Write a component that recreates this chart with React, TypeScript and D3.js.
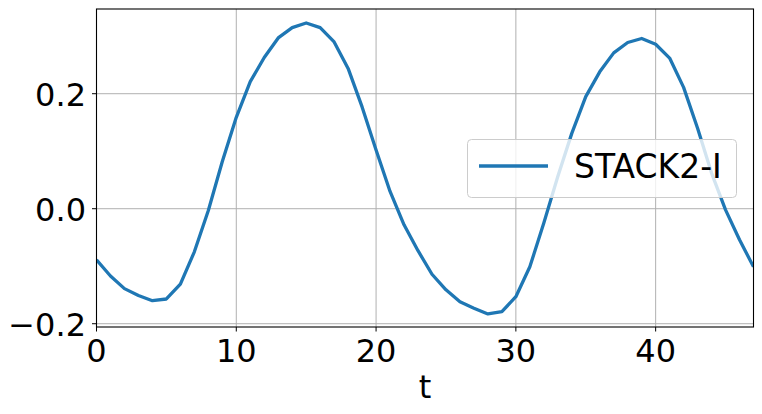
import React from "react";
import * as d3 from "d3";

const tValues = d3.range(0, 48);
const stack2I = [
  -0.089, -0.117, -0.139, -0.151, -0.16, -0.157, -0.131, -0.075, -0.003, 0.082,
  0.159, 0.221, 0.263, 0.297, 0.315, 0.323, 0.315, 0.29, 0.244, 0.177,
  0.102, 0.03, -0.028, -0.073, -0.114, -0.141, -0.162, -0.173, -0.183, -0.179,
  -0.153, -0.101, -0.025, 0.056, 0.131, 0.195, 0.238, 0.271, 0.289, 0.296,
  0.286, 0.262, 0.211, 0.14, 0.062, -0.002, -0.054, -0.101,
];
const xTicks = [0, 10, 20, 30, 40];
const yTicks = [-0.2, 0.0, 0.2];
const seriesName = "STACK2-I";

const W = 762;
const H = 414;
const left = 96.5;
const right = 753.5;
const top = 9;
const bottom = 327;
const font = "DejaVu Sans, sans-serif";

const App = () => {
  const x = d3.scaleLinear().domain([0, 47]).range([left, right]);
  const y = d3.scaleLinear().domain([-0.2057, 0.3473]).range([bottom, top]);

  const line = d3
    .line<number>()
    .x((_, i) => x(tValues[i]))
    .y((d) => y(d));

  const fmt = (v: number) => d3.format(".1f")(v).replace("-", "\u2212");

  return (
    <svg
      width={W}
      height={H}
      style={{ position: "fixed", left: 0, top: 0, background: "#fff" }}
      fontFamily={font}
    >
      <defs>
        <clipPath id="plot">
          <rect x={left} y={top} width={right - left} height={bottom - top} />
        </clipPath>
      </defs>

      {/* grid */}
      {xTicks.map((t) => (
        <line key={"gx" + t} x1={x(t)} x2={x(t)} y1={top} y2={bottom} stroke="#b0b0b0" strokeWidth={1} />
      ))}
      {yTicks.map((t) => (
        <line key={"gy" + t} x1={left} x2={right} y1={y(t)} y2={y(t)} stroke="#b0b0b0" strokeWidth={1} />
      ))}

      {/* series */}
      <path
        d={line(stack2I) || ""}
        fill="none"
        stroke="#1f77b4"
        strokeWidth={3.3}
        strokeLinejoin="round"
        clipPath="url(#plot)"
      />

      {/* spines */}
      <rect x={left} y={top} width={right - left} height={bottom - top} fill="none" stroke="#000" strokeWidth={1.1} />

      {/* x axis */}
      {xTicks.map((t) => (
        <g key={"tx" + t}>
          <line x1={x(t)} x2={x(t)} y1={bottom} y2={bottom + 4.5} stroke="#000" strokeWidth={1} />
          <text x={x(t)} y={362} textAnchor="middle" fontSize={32} fill="#000">
            {t}
          </text>
        </g>
      ))}
      <text x={(left + right) / 2} y={398} textAnchor="middle" fontSize={32} fill="#000">
        t
      </text>

      {/* y axis */}
      {yTicks.map((t) => (
        <g key={"ty" + t}>
          <line x1={left - 4.5} x2={left} y1={y(t)} y2={y(t)} stroke="#000" strokeWidth={1} />
          <text x={86} y={y(t) + 12} textAnchor="end" fontSize={32} fill="#000">
            {fmt(t)}
          </text>
        </g>
      ))}

      {/* legend */}
      <g>
        <rect
          x={467.5}
          y={139.5}
          width={269}
          height={58}
          rx={4}
          fill="#fff"
          fillOpacity={0.8}
          stroke="#cccccc"
          strokeWidth={1}
        />
        <line x1={479} x2={548} y1={166} y2={166} stroke="#1f77b4" strokeWidth={3.3} />
        <text x={574} y={178} fontSize={33} fill="#000">
          {seriesName}
        </text>
      </g>
    </svg>
  );
};

export default App;
